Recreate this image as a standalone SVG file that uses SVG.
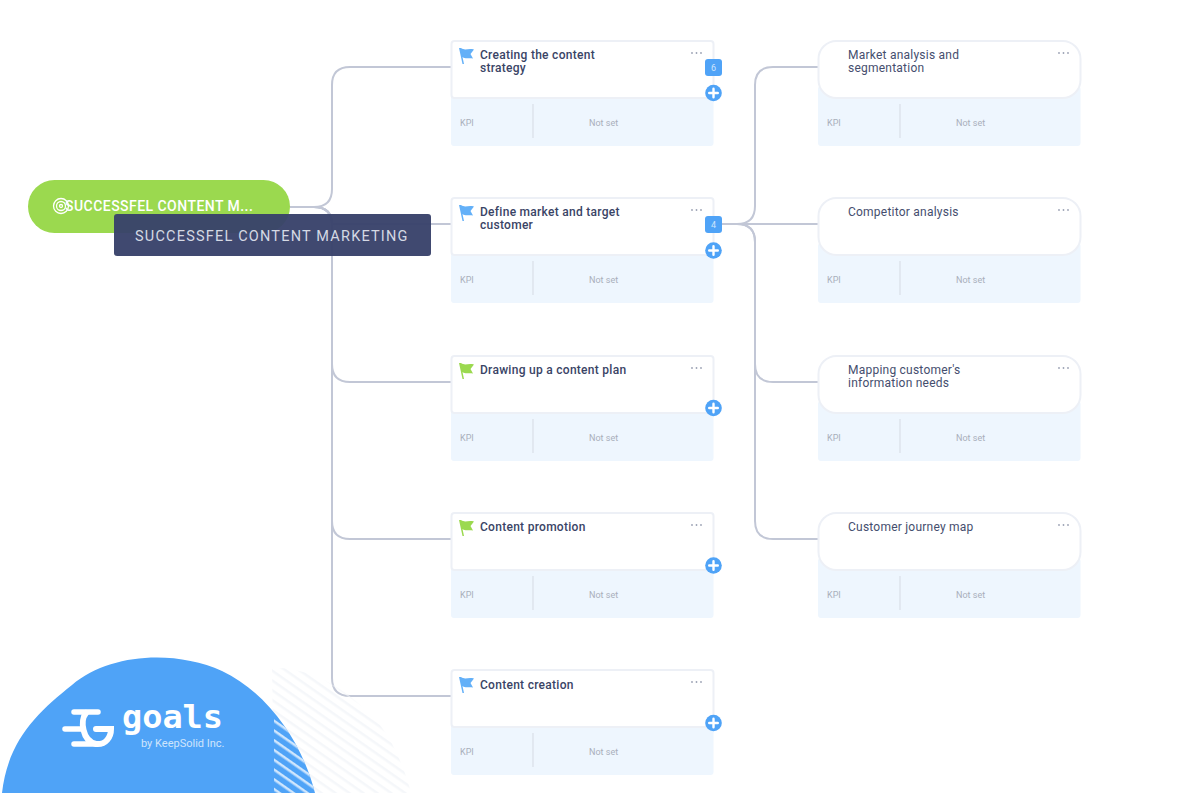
<svg xmlns="http://www.w3.org/2000/svg" width="1201" height="793" viewBox="0 0 1201 793">
<style>
text{font-family:Roboto,"Liberation Sans",sans-serif}
.card{fill:#fff;stroke:#edf0f6;stroke-width:2}
.kpi{fill:#eef6fe}
.div{stroke:#d5dae3;stroke-width:1}
.title{font-size:12px;font-weight:500;fill:#3a4466;letter-spacing:.28px}
.sub{font-size:12px;fill:#454e6e;letter-spacing:.23px}
.lbl{font-size:9px;fill:#a9afbb}
.dots{fill:#9ba2b4}
.conn{fill:none;stroke:#c2c7d6;stroke-width:2}
.add{fill:#4fa3f7}
.badge{fill:#4fa3f7}
.bt{font-size:9px;fill:#cfe5fc;text-anchor:middle}
.plus{stroke:#fff;stroke-width:2.4;stroke-linecap:round}
</style>
<defs>
<g id="dots"><circle cx="0" cy="0" r=".9" class="dots"/><circle cx="4.5" cy="0" r=".9" class="dots"/><circle cx="9" cy="0" r=".9" class="dots"/></g>
<path id="flag" d="M-1 -7 L1 -7 C5 -4 8 -7 14 -5.500 L10.500 -1 L13 3.500 C8 2.500 6 4.500 2.500 2 L4 9 L2.500 9 Z"/>
<g id="plus"><circle r="8.300" class="add"/><path class="plus" d="M-4.300 0H4.300M0 -4.300V4.300"/></g>
<clipPath id="blobClip"><path d="M2 793C8 740 38 712 72 685C110 653 175 650 222 671C270 694 303 745 315 793Z"/></clipPath>
<clipPath id="hatchClip"><path d="M272 668C310 666 350 690 380 725C395 745 405 770 411 793H274Z"/></clipPath>
<pattern id="hatchGrey" width="40" height="8" patternUnits="userSpaceOnUse" patternTransform="rotate(35)"><rect width="40" height="2.500" fill="#f5f7fa"/></pattern>
<pattern id="hatchWhite" width="40" height="8" patternUnits="userSpaceOnUse" patternTransform="rotate(35)"><rect width="40" height="2.500" fill="#cfe6fd"/></pattern>
</defs>
<rect width="1201" height="793" fill="#fff"/>
<g id="connectors">
<path class="conn" d="M290 207H314Q332 207 332 189V85Q332 67 350 67H451"/>
<path class="conn" d="M290 207H314Q332 207 332 224H451"/>
<path class="conn" d="M290 207H314Q332 207 332 225V364Q332 382 350 382H451"/>
<path class="conn" d="M290 207H314Q332 207 332 225V521Q332 539 350 539H451"/>
<path class="conn" d="M290 207H314Q332 207 332 225V678Q332 696 350 696H451"/>
<path class="conn" d="M721 224H737Q755 224 755 206V85Q755 67 773 67H818"/>
<path class="conn" d="M721 224H818"/>
<path class="conn" d="M721 224H737Q755 224 755 242V364Q755 382 773 382H818"/>
<path class="conn" d="M721 224H737Q755 224 755 242V521Q755 539 773 539H818"/>
</g>
<g id="node-root">
<rect x="28" y="180" width="262" height="53" rx="26.500" fill="#9bd94f"/>
<g fill="none" stroke="#fff" stroke-width="1.300"><circle cx="61" cy="206" r="7.500"/><circle cx="61" cy="206" r="4.500"/><circle cx="61" cy="206" r="1.500"/></g>
<text x="65" y="211" font-size="14" font-weight="500" fill="#fff" letter-spacing=".46">SUCCESSFEL CONTENT M...</text>
</g>
<g id="node-1">
<rect class="kpi" x="451" y="92" width="262.500" height="54" rx="3"/>
<rect class="card" x="451.500" y="41" width="262" height="57" rx="3"/>
<use href="#flag" x="460" y="55" fill="#63b0f8"/>
<text class="title" x="480" y="59">Creating the content</text>
<text class="title" x="480" y="72">strategy</text>
<use href="#dots" x="692" y="53"/>
<path class="div" d="M533 104V138"/>
<text class="lbl" x="460" y="126">KPI</text>
<text class="lbl" x="589" y="126">Not set</text>
<rect class="badge" x="705" y="59" width="17" height="17" rx="3"/>
<text class="bt" x="713.500" y="70.500">6</text>
<use href="#plus" x="713.500" y="93"/>
</g>
<g id="node-2">
<rect class="kpi" x="451" y="249" width="262.500" height="54" rx="3"/>
<rect class="card" x="451.500" y="198" width="262" height="57" rx="3"/>
<use href="#flag" x="460" y="212" fill="#63b0f8"/>
<text class="title" x="480" y="216">Define market and target</text>
<text class="title" x="480" y="229">customer</text>
<use href="#dots" x="692" y="210"/>
<path class="div" d="M533 261V295"/>
<text class="lbl" x="460" y="283">KPI</text>
<text class="lbl" x="589" y="283">Not set</text>
<rect class="badge" x="705" y="216" width="17" height="17" rx="3"/>
<text class="bt" x="713.500" y="227.500">4</text>
<use href="#plus" x="713.500" y="250.500"/>
</g>
<g id="node-3">
<rect class="kpi" x="451" y="407" width="262.500" height="54" rx="3"/>
<rect class="card" x="451.500" y="356" width="262" height="57" rx="3"/>
<use href="#flag" x="460" y="370" fill="#9bd94f"/>
<text class="title" x="480" y="374">Drawing up a content plan</text>
<use href="#dots" x="692" y="368"/>
<path class="div" d="M533 419V453"/>
<text class="lbl" x="460" y="441">KPI</text>
<text class="lbl" x="589" y="441">Not set</text>
<use href="#plus" x="713.500" y="408"/>
</g>
<g id="node-4">
<rect class="kpi" x="451" y="564" width="262.500" height="54" rx="3"/>
<rect class="card" x="451.500" y="513" width="262" height="57" rx="3"/>
<use href="#flag" x="460" y="527" fill="#9bd94f"/>
<text class="title" x="480" y="531">Content promotion</text>
<use href="#dots" x="692" y="525"/>
<path class="div" d="M533 576V610"/>
<text class="lbl" x="460" y="598">KPI</text>
<text class="lbl" x="589" y="598">Not set</text>
<use href="#plus" x="713.500" y="565.500"/>
</g>
<g id="node-5">
<rect class="kpi" x="451" y="721" width="262.500" height="54" rx="3"/>
<rect class="card" x="451.500" y="670" width="262" height="57" rx="3"/>
<use href="#flag" x="460" y="684" fill="#63b0f8"/>
<text class="title" x="480" y="688.500">Content creation</text>
<use href="#dots" x="692" y="682"/>
<path class="div" d="M533 733V767"/>
<text class="lbl" x="460" y="755">KPI</text>
<text class="lbl" x="589" y="755">Not set</text>
<use href="#plus" x="713.500" y="723"/>
</g>
<g id="node-6">
<rect class="kpi" x="818" y="86" width="262.500" height="60" rx="3"/>
<rect class="card" x="818.500" y="41" width="262" height="57" rx="18"/>
<text class="sub" x="848" y="59">Market analysis and</text>
<text class="sub" x="848" y="72">segmentation</text>
<use href="#dots" x="1059" y="53"/>
<path class="div" d="M900 104V138"/>
<text class="lbl" x="827" y="126">KPI</text>
<text class="lbl" x="956" y="126">Not set</text>
</g>
<g id="node-7">
<rect class="kpi" x="818" y="243" width="262.500" height="60" rx="3"/>
<rect class="card" x="818.500" y="198" width="262" height="57" rx="18"/>
<text class="sub" x="848" y="216">Competitor analysis</text>
<use href="#dots" x="1059" y="210"/>
<path class="div" d="M900 261V295"/>
<text class="lbl" x="827" y="283">KPI</text>
<text class="lbl" x="956" y="283">Not set</text>
</g>
<g id="node-8">
<rect class="kpi" x="818" y="401" width="262.500" height="60" rx="3"/>
<rect class="card" x="818.500" y="356" width="262" height="57" rx="18"/>
<text class="sub" x="848" y="374">Mapping customer's</text>
<text class="sub" x="848" y="387">information needs</text>
<use href="#dots" x="1059" y="368"/>
<path class="div" d="M900 419V453"/>
<text class="lbl" x="827" y="441">KPI</text>
<text class="lbl" x="956" y="441">Not set</text>
</g>
<g id="node-9">
<rect class="kpi" x="818" y="558" width="262.500" height="60" rx="3"/>
<rect class="card" x="818.500" y="513" width="262" height="57" rx="18"/>
<text class="sub" x="848" y="531">Customer journey map</text>
<use href="#dots" x="1059" y="525"/>
<path class="div" d="M900 576V610"/>
<text class="lbl" x="827" y="598">KPI</text>
<text class="lbl" x="956" y="598">Not set</text>
</g>
<g id="tooltip">
<rect x="114" y="214" width="317" height="42" rx="3" fill="#38426a" fill-opacity=".96"/>
<text x="135" y="241" font-size="14.500" fill="#d5d9e4" letter-spacing="1.200">SUCCESSFEL CONTENT MARKETING</text>
</g>
<g id="logo">
<rect x="272" y="660" width="145" height="133" fill="url(#hatchGrey)" clip-path="url(#hatchClip)"/>
<path d="M2 793C8 740 38 712 72 685C110 653 175 650 222 671C270 694 303 745 315 793Z" fill="#4fa3f7"/>
<g clip-path="url(#blobClip)"><rect x="274" y="715" width="45" height="78" fill="url(#hatchWhite)"/></g>
<g fill="none" stroke="#fff" stroke-linecap="round">
<path stroke-width="5.500" d="M74 712H98M65 729H82M74 744H95"/>
<path stroke-width="6" d="M86 713C80 720 82 741 96 744C106 745 111 737 111 729H96"/>
</g>
<text x="122" y="728" font-size="32" font-weight="700" fill="#fff" style="font-family:'DejaVu Sans Mono',Roboto,monospace" textLength="101" lengthAdjust="spacingAndGlyphs">goals</text>
<text x="141" y="747" font-size="11" fill="#cfe5fc">by KeepSolid Inc.</text>
</g>
</svg>
